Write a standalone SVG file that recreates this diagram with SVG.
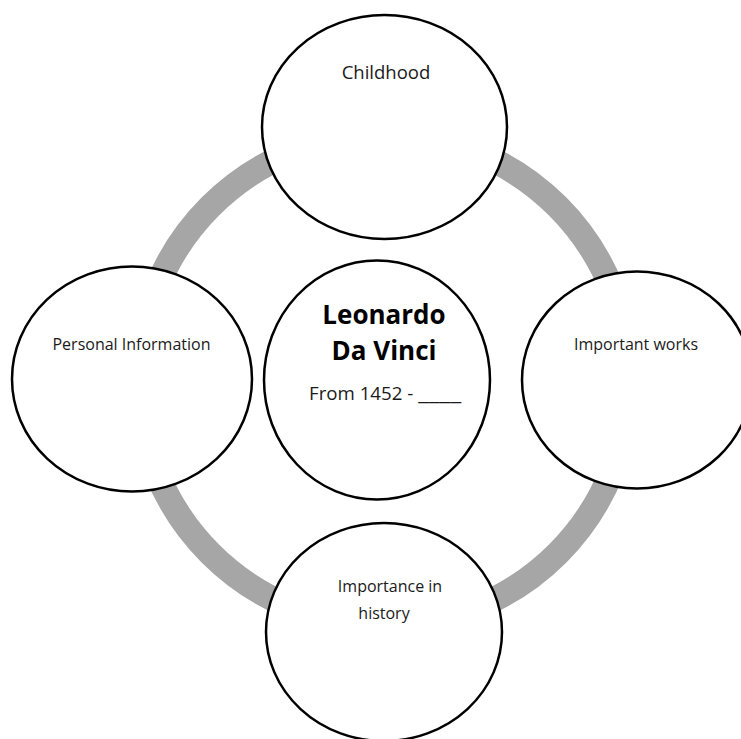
<svg xmlns="http://www.w3.org/2000/svg" width="741" height="739" viewBox="0 0 741 739">
<style>
.node{fill:#fff;stroke:#000;stroke-width:2.5}
.t{font-family:"Open Sans","Noto Sans",sans-serif;font-size:16px;fill:#1a1a1a;text-anchor:middle}
.b{font-family:"Open Sans","Noto Sans",sans-serif;font-size:26px;font-weight:bold;fill:#000;text-anchor:middle}
</style>
<rect width="741" height="739" fill="#fff"/>
<g id="connectors">
<circle cx="384" cy="380" r="245.5" fill="none" stroke="#a6a6a6" stroke-width="25"/>
</g>
<g id="center">
<ellipse class="node" cx="377" cy="380" rx="113" ry="119.5"/>
<text class="b" x="384" y="324">Leonardo</text>
<text class="b" x="384" y="360">Da Vinci</text>
<text class="t" x="309" y="400" style="text-anchor:start;font-size:18.7px">From 1452 - <tspan textLength="43" lengthAdjust="spacingAndGlyphs">____</tspan></text>
</g>
<g id="childhood">
<ellipse class="node" cx="384.5" cy="127" rx="122.5" ry="112"/>
<text class="t" x="386" y="79" style="font-size:18.5px">Childhood</text>
</g>
<g id="personal">
<ellipse class="node" cx="132" cy="379" rx="120" ry="112.5"/>
<text class="t" x="131.5" y="350">Personal Information</text>
</g>
<g id="works">
<ellipse class="node" cx="637" cy="380" rx="115" ry="108.5"/>
<text class="t" x="636" y="350">Important works</text>
</g>
<g id="history">
<ellipse class="node" cx="384" cy="632" rx="118" ry="109"/>
<text class="t" x="390" y="592">Importance in</text>
<text class="t" x="384" y="619">history</text>
</g>
</svg>
